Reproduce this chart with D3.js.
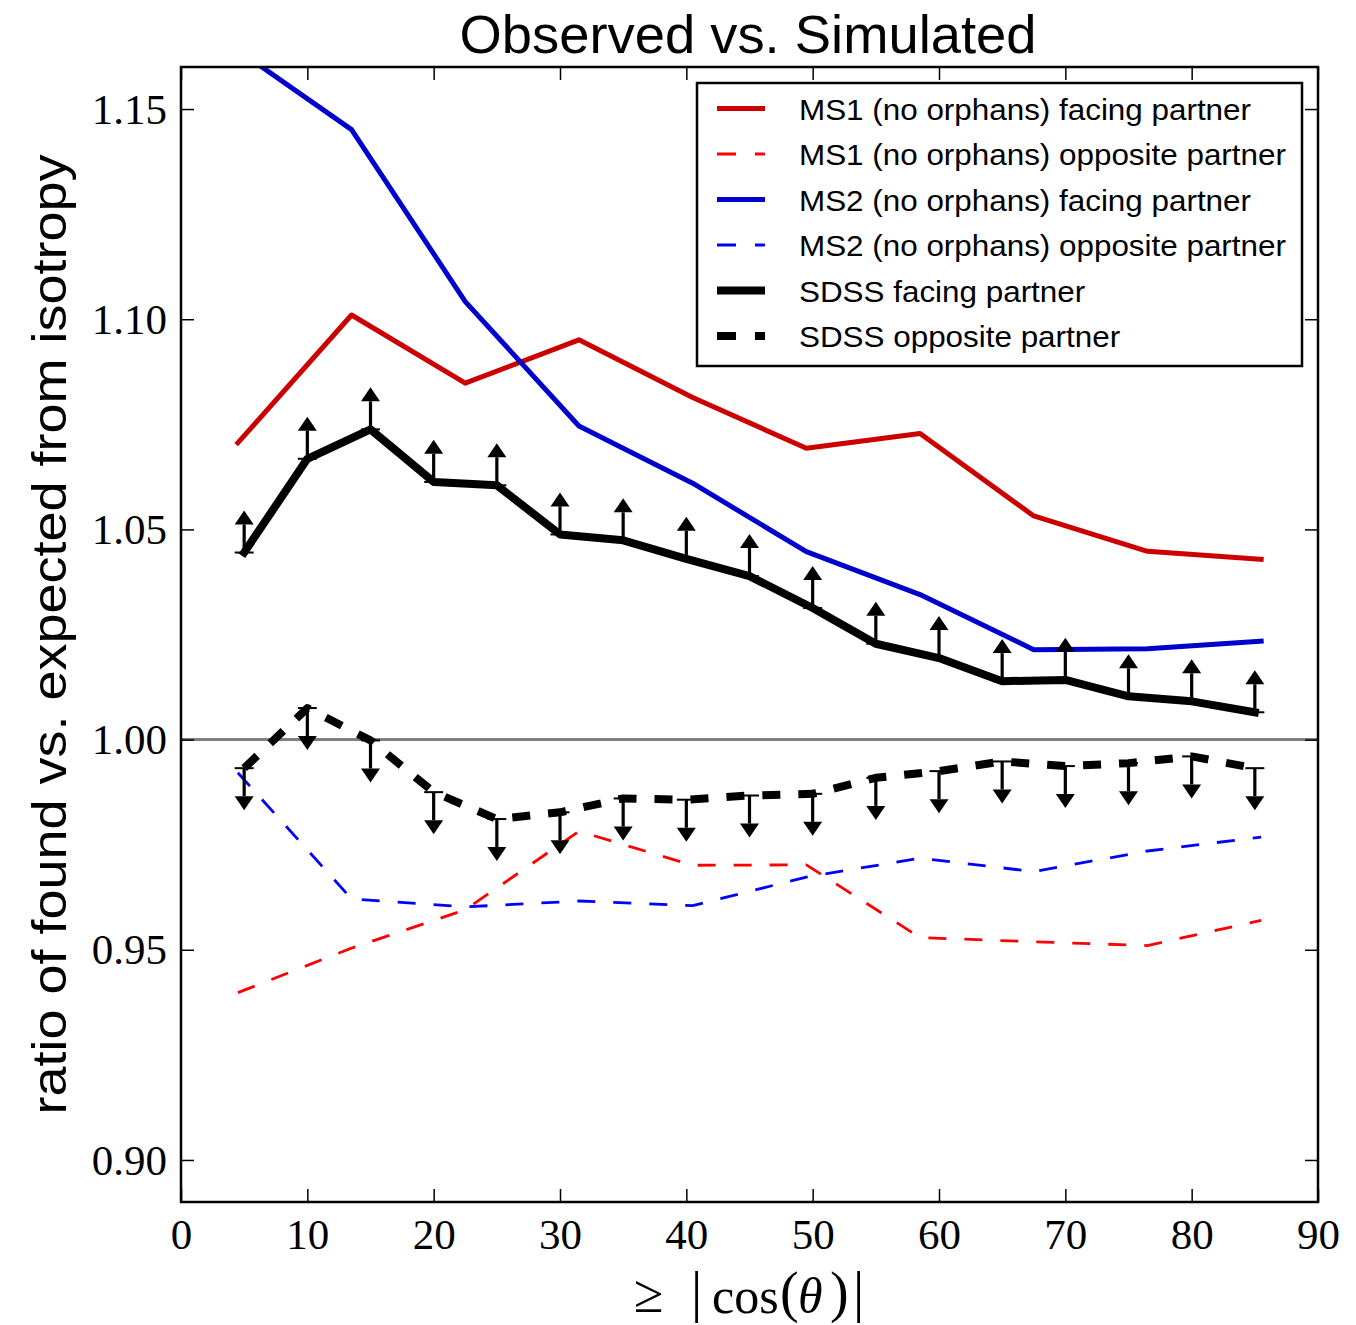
<!DOCTYPE html>
<html>
<head>
<meta charset="utf-8">
<script src="https://cdn.jsdelivr.net/npm/d3@7"></script>
<style>
  html, body { margin: 0; padding: 0; background: #fff; }
  svg { display: block; }
</style>
</head>
<body>
<script>
// Bin centres of the simulated (Millennium) samples and the SDSS thresholds
const msX = [4.5, 13.5, 22.5, 31.5, 40.5, 49.5, 58.5, 67.5, 76.5, 85.5];
const ms1Facing   = [1.0706, 1.1010, 1.0848, 1.0951, 1.0814, 1.0693, 1.0728, 1.0532, 1.0448, 1.0429];
const ms1Opposite = [0.9398, 0.9504, 0.9595, 0.9782, 0.9701, 0.9702, 0.9529, 0.9519, 0.9510, 0.9570];
const ms2Facing   = [1.1640, 1.1451, 1.1042, 1.0746, 1.0610, 1.0447, 1.0345, 1.0214, 1.0216, 1.0234];
const ms2Opposite = [0.9921, 0.9621, 0.9602, 0.9616, 0.9605, 0.9673, 0.9718, 0.9686, 0.9735, 0.9768];

const sdssX = [5, 10, 15, 20, 25, 30, 35, 40, 45, 50, 55, 60, 65, 70, 75, 80, 85];
const sdssFacing   = [1.0445, 1.0668, 1.0738, 1.0613, 1.0605, 1.0488, 1.0474, 1.0430, 1.0389,
                      1.0313, 1.0228, 1.0194, 1.0139, 1.0142, 1.0103, 1.0091, 1.0065];
const sdssOpposite = [0.9932, 1.0075, 0.9998, 0.9875, 0.9811, 0.9827, 0.9860, 0.9857, 0.9867,
                      0.9871, 0.9909, 0.9925, 0.9948, 0.9937, 0.9944, 0.9960, 0.9932];
// length of the limit arrows (lower limits for facing, upper limits for opposite)
const limitLength = 0.01;

const xTicks = [0, 10, 20, 30, 40, 50, 60, 70, 80, 90];
const yTicks = [0.90, 0.95, 1.00, 1.05, 1.10, 1.15];

const legendLabels = [
  "MS1 (no orphans) facing partner",
  "MS1 (no orphans) opposite partner",
  "MS2 (no orphans) facing partner",
  "MS2 (no orphans) opposite partner",
  "SDSS facing partner",
  "SDSS opposite partner"
];

const W = 1356, H = 1325;
const plot = { left: 181, right: 1318, top: 67, bottom: 1202 };

const svg = d3.select("body").append("svg")
  .attr("width", W).attr("height", H)
  .attr("viewBox", `0 0 ${W} ${H}`);

const x = d3.scaleLinear().domain([0, 90]).range([plot.left, plot.right]);
const y = d3.scaleLinear().domain([0.89, 1.16]).range([plot.bottom, plot.top]);

svg.append("defs").append("clipPath").attr("id", "plot-clip")
  .append("rect")
  .attr("x", plot.left).attr("y", plot.top)
  .attr("width", plot.right - plot.left).attr("height", plot.bottom - plot.top);

const dash = "18,18";
const styles = [
  { color: "#cc0000", width: 5,   dash: null },
  { color: "#ff0000", width: 2.8, dash: dash },
  { color: "#0000cc", width: 5,   dash: null },
  { color: "#0000ff", width: 2.8, dash: dash },
  { color: "#000000", width: 8,   dash: null },
  { color: "#000000", width: 8,   dash: dash }
];

const series = [
  { xs: msX, ys: ms1Facing },
  { xs: msX, ys: ms1Opposite },
  { xs: msX, ys: ms2Facing },
  { xs: msX, ys: ms2Opposite },
  { xs: sdssX, ys: sdssFacing },
  { xs: sdssX, ys: sdssOpposite }
];

const body = svg.append("g").attr("clip-path", "url(#plot-clip)");

// isotropy reference line
body.append("line")
  .attr("x1", plot.left).attr("x2", plot.right)
  .attr("y1", y(1)).attr("y2", y(1))
  .attr("stroke", "#808080").attr("stroke-width", 3);

const line = d3.line().x(d => x(d[0])).y(d => y(d[1]));

series.forEach((s, i) => {
  const st = styles[i];
  const pts = s.xs.map((v, k) => [v, s.ys[k]]);
  body.append("path")
    .attr("d", line(pts))
    .attr("fill", "none")
    .attr("stroke", st.color)
    .attr("stroke-width", st.width)
    .attr("stroke-linejoin", "round")
    .attr("stroke-linecap", st.dash ? "butt" : "square")
    .attr("stroke-dasharray", st.dash);
});

// limit arrows: stem, cap at the measured value, filled arrowhead at the far end
function drawLimits(xs, ys, dir) {
  const g = body.append("g");
  xs.forEach((xv, k) => {
    const cx = x(xv);
    const y0 = y(ys[k]);
    const y1 = y(ys[k] + dir * limitLength);
    const head = 14, half = 9.5;
    const base = y1 + (dir > 0 ? head : -head);
    g.append("line")
      .attr("x1", cx).attr("x2", cx).attr("y1", y0).attr("y2", base)
      .attr("stroke", "#000").attr("stroke-width", 3.2);
    g.append("line")
      .attr("x1", cx - half).attr("x2", cx + half).attr("y1", y0).attr("y2", y0)
      .attr("stroke", "#000").attr("stroke-width", 2);
    g.append("path")
      .attr("d", `M${cx},${y1}L${cx - half},${base}L${cx + half},${base}Z`)
      .attr("fill", "#000");
  });
}
drawLimits(sdssX, sdssFacing, +1);
drawLimits(sdssX, sdssOpposite, -1);

// axes: inward ticks on all four sides
const tickLen = 13;
const serif = "'Liberation Serif', 'Times New Roman', serif";

const gBottom = svg.append("g").attr("transform", `translate(0,${plot.bottom})`)
  .call(d3.axisBottom(x).tickValues(xTicks).tickFormat(d3.format("d")).tickSizeInner(-tickLen).tickSizeOuter(0));
gBottom.selectAll("text").attr("y", 47).attr("dy", null)
  .attr("font-family", serif).attr("font-size", 43).attr("fill", "#000");

const gLeft = svg.append("g").attr("transform", `translate(${plot.left},0)`)
  .call(d3.axisLeft(y).tickValues(yTicks).tickFormat(d3.format(".2f")).tickSizeInner(-tickLen).tickSizeOuter(0));
gLeft.selectAll("text").attr("x", -14).attr("dy", "0.33em")
  .attr("font-family", serif).attr("font-size", 43).attr("fill", "#000");

const gTop = svg.append("g").attr("transform", `translate(0,${plot.top})`)
  .call(d3.axisTop(x).tickValues(xTicks).tickFormat("").tickSizeInner(-tickLen).tickSizeOuter(0));
const gRight = svg.append("g").attr("transform", `translate(${plot.right},0)`)
  .call(d3.axisRight(y).tickValues(yTicks).tickFormat("").tickSizeInner(-tickLen).tickSizeOuter(0));

[gBottom, gLeft, gTop, gRight].forEach(g => {
  g.select(".domain").remove();
  g.selectAll(".tick line").attr("stroke", "#000").attr("stroke-width", 1.5);
});

svg.append("rect")
  .attr("x", plot.left).attr("y", plot.top)
  .attr("width", plot.right - plot.left).attr("height", plot.bottom - plot.top)
  .attr("fill", "none").attr("stroke", "#000").attr("stroke-width", 2.5);

// legend
const sans = "'Liberation Sans', Arial, Helvetica, sans-serif";
const legend = svg.append("g");
legend.append("rect")
  .attr("x", 697).attr("y", 83).attr("width", 605).attr("height", 283)
  .attr("fill", "#fff").attr("stroke", "#000").attr("stroke-width", 2.5);
const legendTexts = [];
legendLabels.forEach((lab, i) => {
  const st = styles[i];
  const cy = 108.5 + i * 45.5;
  legend.append("line")
    .attr("x1", 717).attr("x2", 765).attr("y1", cy).attr("y2", cy)
    .attr("stroke", st.color).attr("stroke-width", st.width)
    .attr("stroke-dasharray", st.dash ? "19,19" : null)
    .attr("stroke-linecap", "butt");
  legendTexts.push(legend.append("text")
    .attr("x", 799).attr("y", cy + 11)
    .attr("font-family", sans).attr("font-size", 30)
    .attr("fill", "#000")
    .text(lab));
});
// the legend face runs slightly wider than Liberation Sans
const legendStretch = 452 / legendTexts[0].node().getComputedTextLength();
legendTexts.forEach(t => {
  t.attr("textLength", t.node().getComputedTextLength() * legendStretch)
   .attr("lengthAdjust", "spacingAndGlyphs");
});

// title
svg.append("text")
  .attr("x", 748).attr("y", 53)
  .attr("text-anchor", "middle")
  .attr("font-family", sans).attr("font-size", 53).attr("fill", "#000")
  .attr("textLength", 577).attr("lengthAdjust", "spacingAndGlyphs")
  .text("Observed vs. Simulated");

// y-axis label
svg.append("text")
  .attr("transform", `translate(66,${(plot.top + plot.bottom) / 2}) rotate(-90)`)
  .attr("text-anchor", "middle")
  .attr("font-family", sans).attr("font-size", 49).attr("fill", "#000")
  .attr("textLength", 960).attr("lengthAdjust", "spacingAndGlyphs")
  .text("ratio of found vs. expected from isotropy");

// x-axis label, set piece by piece like the typeset formula
const xLabelParts = [
  { t: "\u2265", x: 634, y: 1312, size: 54, italic: false },
  { t: "|",      x: 691, y: 1311, size: 56, italic: false },
  { t: "cos",    x: 712, y: 1313, size: 50, italic: false },
  { t: "(",      x: 780, y: 1311, size: 56, italic: false },
  { t: "\u03b8", x: 798, y: 1313, size: 50, italic: true },
  { t: ")",      x: 830, y: 1311, size: 56, italic: false },
  { t: "|",      x: 853, y: 1311, size: 56, italic: false }
];
const xl = svg.append("g");
xLabelParts.forEach(p => {
  xl.append("text")
    .attr("x", p.x).attr("y", p.y)
    .attr("font-family", serif).attr("font-size", p.size)
    .attr("font-style", p.italic ? "italic" : null)
    .attr("fill", "#000")
    .text(p.t);
});
</script>
</body>
</html>
